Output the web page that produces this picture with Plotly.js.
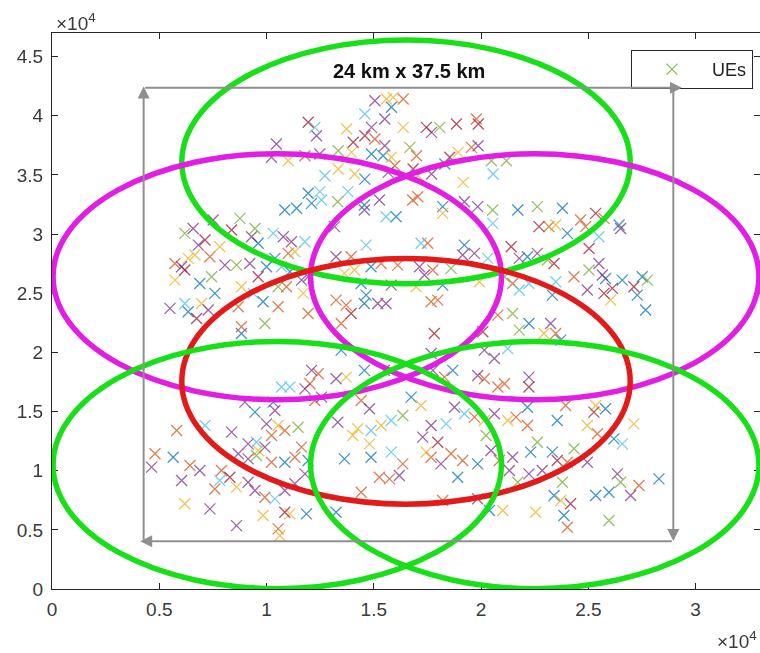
<!DOCTYPE html>
<html>
<head>
<meta charset="utf-8">
<script src="https://cdn.plot.ly/plotly-3.0.1.min.js"></script>
<style>
  html, body { margin: 0; padding: 0; background: #fff; }
  #chart { width: 760px; height: 653px; }
</style>
</head>
<body>
<div id="chart"></div>
<script>
// ---------------- DATA (metres) ----------------
// UE positions, with their MATLAB colour-order letter
const ueX = [
  // top band
  15050,15590,15900,16370,15820,14580,15510,11940,12250,12330,13730,14890,14580,14040,15050,16370,17450,17690,18070,18850,19780,19870,10460,10230,11010,11790,12480,13340,13960,14890,15510,15430,15820,15980,15670,16680,16990,16830,17070,17690,18310,18540,18930,19550,19860,20480,21180,20560,12720,13340,14110,14580,19160,
  // middle-left
  10850,11400,11940,12480,12100,12560,6190,6580,7510,8760,8370,9460,9300,6820,7130,7820,5730,6350,6660,7360,6190,5730,6040,8060,8600,9220,9610,10310,10780,11160,11010,11320,11790,10390,10000,10700,11090,11630,11940,6890,7440,7590,8830,9380,9840,10540,10930,10540,11710,11940,5500,6190,6350,6970,6740,7280,8680,8830,8830,9920,9610,
  // middle-centre
  13790,13320,13170,14560,14560,15260,15570,16040,16810,17050,18210,18210,19220,19840,20540,20540,21710,14640,17200,17510,19220,19690,19140,20310,21400,21780,13240,13940,14100,14870,15340,16120,17130,17360,17750,18600,13630,14410,15810,16970,18210,19920,21090,21470,21780,13240,13710,13940,13480,14640,14560,15180,15570,17670,17980,17820,20780,21470,21780,20080,20150,21240,20620,17670,13480,
  // middle-right
  22620,23790,22700,23160,23480,24020,24640,24870,25340,25730,26430,26500,25030,25490,22160,22620,23090,23400,22230,23480,23320,24330,25030,25490,25650,25800,24950,25730,26120,26040,26580,27120,27510,27750,27280,27670,22230,23240,23480,23710,22930,
  // bottom-left
  10700,11090,11790,12100,12410,12020,12250,8990,9460,10310,10390,10000,10540,10850,11470,5810,7130,8370,9140,9530,9920,10230,8680,9140,9530,9610,10230,10850,11320,11630,11940,7900,8290,7820,7590,8600,9140,4800,4640,5650,6430,6890,6040,9460,9920,10390,10850,11320,6190,7360,9840,10850,11090,11860,8600,10540,10620,11790,12560,
  // bottom-centre
  13240,13710,14560,15490,17750,18680,18290,19840,20150,20780,21090,14410,14800,16740,17200,16350,15810,13320,14250,14020,14870,15340,17670,18370,18760,19220,19690,20150,20620,21240,21630,20230,17280,17980,14800,15810,13630,14870,17440,17670,18130,18600,19140,18910,19840,20460,20850,21470,16350,15260,15730,16190,14410,18210,19840,20390,21010,13240,21320,21710,
  // bottom-right
  22230,22230,22160,22160,23940,23550,25260,25340,25800,24950,25420,26190,26580,27120,22620,22310,23320,23550,24330,24020,24950,22230,22850,23790,23400,23710,24170,23860,22540,24020,25340,25960,26350,26500,26970,27360,28290,25960
];
const ueY = [
  41280,41420,41560,41420,40720,40150,39730,39450,39020,38320,38880,39020,38320,37760,38040,39020,39020,38600,39020,39310,39730,39310,37610,36490,36200,36630,36770,37050,36910,36770,37470,36630,36490,35780,35220,37330,36630,35500,34940,35080,35920,36490,36910,37330,37470,36200,36200,35080,34940,35500,35080,34650,34370,
  32040,32180,33450,33590,32600,32880,30060,30480,31190,31330,30350,30480,29780,29070,29500,28930,27520,27950,28230,28090,26960,26110,27240,27380,27380,27520,29220,30060,29780,29360,28370,28510,29360,27950,27240,27240,26820,26110,26400,25830,26400,24990,25550,24990,24280,25550,25550,23860,24990,23290,23720,24140,23430,24140,22870,23580,23860,22170,21600,22450,26400,
  33590,32740,30630,32460,32040,32880,31470,31470,32880,33160,32320,31750,32740,32320,32040,30910,32040,29070,29220,29220,29070,28370,28230,27950,28930,27950,28090,28090,26960,27240,27520,27380,27240,26540,26960,27100,26680,25830,25690,25550,25690,25970,26400,25830,25270,24420,24000,23290,22450,24840,24140,24140,24140,24280,24420,21600,23150,23290,21880,21740,20190,20330,19490,19910,20190,
  32320,32180,30630,30630,30770,30060,31190,30630,31750,31330,30770,30480,28790,29780,28090,28370,27810,27520,25830,25970,24840,26400,26960,27520,26540,26250,25270,24990,25410,24420,26110,25550,26400,26110,24840,23580,22450,22450,21600,21040,21600,
  17070,17070,16920,18480,18190,17350,15940,15800,14950,15800,15090,13960,13820,13400,13680,13400,13820,13260,12270,12410,11990,12980,11430,11000,11280,11710,10720,10720,11140,11990,10860,10020,9450,9170,8460,8610,9030,11430,10300,11140,10440,10020,9170,8320,7760,7620,8320,8890,7200,6770,6210,6490,6350,6350,5360,5080,4520,9730,16220,
  17770,17910,18480,18480,18480,18480,17910,18050,17770,17070,17350,15940,15230,16220,15510,14670,14250,14100,13540,12980,13400,13820,13820,13960,15370,14810,14530,14250,14810,14250,14530,12980,12840,12410,12270,11570,11000,11140,11570,11140,10580,11430,10860,9450,10580,11710,10860,11140,10580,9450,9310,9590,8180,7480,7620,6630,6630,6490,10020,9030,
  17910,17070,15370,13820,15510,14250,14950,15510,15230,13820,13120,12690,12270,13960,12410,11570,11570,10860,11850,10720,10720,9730,10020,9030,7900,7480,7200,6210,6490,5220,7900,8180,9730,9030,7900,8750,9310,5790
];
// b=blue o=orange y=yellow p=purple g=green c=cyan r=dark red
const ueColour = (
  "pyyobcprcp"+"yprroyrpgr"+"orppyopgyb"+"pbyopgoryp"+"bryopggccy"+"yby" +
  "bbbcbcgppg"+"rgppryoyyo"+"ryppgpbcpp"+"oycbbcbppb"+"gbycbgooyo"+"pcbyrpoobg"+"r" +
  "cgpbppcboo"+"byppgcbcco"+"bppcrppoyb"+"ooppogybpy"+"bygocoorob"+"bppooroggr"+"pcppb" +
  "gbroybooro"+"bprcbpgrcc"+"bogppbprry"+"brbgbbbpob"+"y" +
  "ccppooopbb"+"ppyogocppc"+"poppgyoboo"+"borcoypopb"+"opppocppyp"+"yrybpoypp" +
  "pybrpbopoo"+"oopbygcpyy"+"cypcpcoypy"+"ogprycbbyo"+"poobbpopoo"+"opoorbybpg" +
  "prboobryby"+"obcygbbrgo"+"pppgbyrbyo"+"bbpgpobg"
).split('');

// coverage cells (centre and radii, metres)
const cellCx = [16500, 10500, 22500, 16500, 10500, 22500];
const cellCy = [36100, 26400, 26400, 17550, 10480, 10480];
const cellRx = [10450, 10450, 10450, 10450, 10450, 10450];
const cellRy = [10300, 10400, 10400, 10380, 10450, 10450];

// area frame arrows (tail -> head), metres
const arrowX0 = [4270, 28960, 28960, 4270];
const arrowY0 = [42370, 42370, 4040, 4040];
const arrowX1 = [29360, 28960, 4110, 4270];
const arrowY1 = [42370, 4060, 4040, 42480];

const areaLabel = "24 km x 37.5 km";
const xTickVals = [0, 5000, 10000, 15000, 20000, 25000, 30000];
const xTickText = ["0", "0.5", "1", "1.5", "2", "2.5", "3"];
const yTickVals = [0, 5000, 10000, 15000, 20000, 25000, 30000, 35000, 40000, 45000];
const yTickText = ["0", "0.5", "1", "1.5", "2", "2.5", "3", "3.5", "4", "4.5"];

// ---------------- STYLE ----------------
const palette = { b:'#0072BD', o:'#D95319', y:'#EDB120', p:'#7E2F8E', g:'#77AC30', c:'#4DBEEE', r:'#A2142F' };
const colourOrder = ['b','o','y','p','c','r','g'];
const cellColours = ['#18e018', '#e11ee1', '#e11ee1', '#e31a1a', '#18e018', '#18e018'];
const font = 'Liberation Sans, Arial, Helvetica, sans-serif';
const axisCol = '#262626';

const traces = colourOrder.map(k => {
  const xs = [], ys = [];
  for (let i = 0; i < ueX.length; i++) {
    if (ueColour[i] === k) { xs.push(ueX[i]); ys.push(ueY[i]); }
  }
  return {
    type: 'scatter', mode: 'markers', x: xs, y: ys,
    name: 'UEs', showlegend: k === 'g',
    opacity: 0.75,
    marker: { symbol: 'x-thin', size: 11, color: palette[k], line: { color: palette[k], width: 1.3 } },
    hoverinfo: 'skip'
  };
});

const shapes = cellCx.map((cx, i) => ({
  type: 'circle', xref: 'x', yref: 'y',
  x0: cx - cellRx[i], x1: cx + cellRx[i],
  y0: cellCy[i] - cellRy[i], y1: cellCy[i] + cellRy[i],
  line: { color: cellColours[i], width: 5.5 }, fillcolor: 'rgba(0,0,0,0)'
}));

const annotations = arrowX0.map((x0, i) => ({
  xref: 'x', yref: 'y', axref: 'x', ayref: 'y',
  x: arrowX1[i], y: arrowY1[i], ax: x0, ay: arrowY0[i],
  text: '', showarrow: true, arrowhead: 2, arrowsize: 1.2, arrowwidth: 2,
  arrowcolor: '#8f8f8f', standoff: 0, startstandoff: 0
}));
annotations.push({
  xref: 'x', yref: 'y', x: 16640, y: 43780, text: areaLabel, showarrow: false,
  font: { family: font, size: 20, color: '#111', weight: 'bold' }
});
annotations.push({
  xref: 'paper', yref: 'paper', x: 0.003, y: 1.02, xanchor: 'left', yanchor: 'middle',
  text: '×10<sup>4</sup>', showarrow: false, font: { family: font, size: 19, color: '#3a3a3a' }
});
annotations.push({
  xref: 'paper', yref: 'paper', x: 0.998, y: -0.092, xanchor: 'right', yanchor: 'middle',
  text: '×10<sup>4</sup>', showarrow: false, font: { family: font, size: 19, color: '#3a3a3a' }
});

const axisCommon = {
  ticks: 'inside', ticklen: 6, tickwidth: 1, tickcolor: axisCol,
  showline: true, linecolor: axisCol, linewidth: 1, mirror: 'ticks',
  showgrid: false, zeroline: false,
  tickfont: { family: font, size: 19, color: '#3a3a3a' }
};

const layout = {
  width: 760, height: 653,
  margin: { l: 52, r: 0, t: 33, b: 64 },
  paper_bgcolor: '#fff', plot_bgcolor: '#fff',
  xaxis: Object.assign({}, axisCommon, { range: [0, 33000], tickvals: xTickVals, ticktext: xTickText, ticklabelstandoff: 3 }),
  yaxis: Object.assign({}, axisCommon, { range: [0, 47000], tickvals: yTickVals, ticktext: yTickText, ticklabelstandoff: 4 }),
  shapes: shapes,
  annotations: annotations,
  showlegend: true,
  legend: {
    x: 0.99, y: 0.9694, xanchor: 'right', yanchor: 'top',
    bgcolor: '#fff', bordercolor: axisCol, borderwidth: 1,
    itemwidth: 70, font: { family: font, size: 18, color: '#222' }
  },
  hovermode: false
};

Plotly.newPlot('chart', traces, layout, { staticPlot: true, displayModeBar: false });
</script>
</body>
</html>
